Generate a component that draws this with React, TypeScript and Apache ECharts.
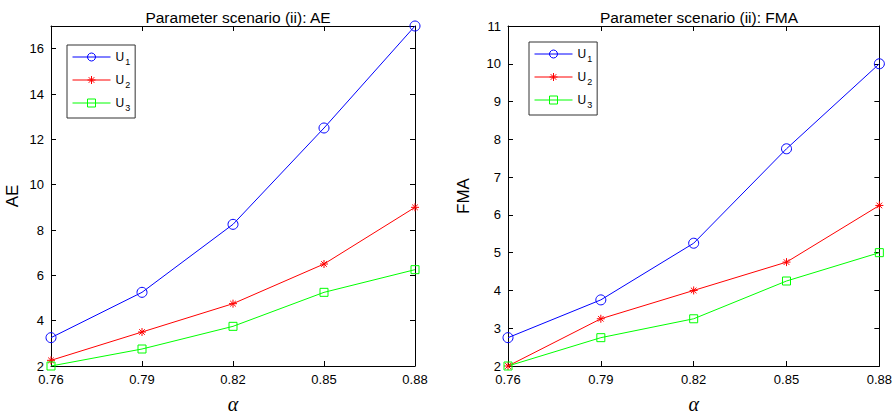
import React, { useEffect, useRef } from "react";
import * as echarts from "echarts";

const alphaLabels = ["0.76", "0.79", "0.82", "0.85", "0.88"];
const seriesNames = ["U1", "U2", "U3"];
const aeU1 = [3.25, 5.25, 8.25, 12.5, 17];
const aeU2 = [2.25, 3.5, 4.75, 6.5, 9];
const aeU3 = [2, 2.75, 3.75, 5.25, 6.25];
const fmaU1 = [2.75, 3.75, 5.25, 7.75, 10];
const fmaU2 = [2, 3.25, 4, 4.75, 6.25];
const fmaU3 = [2, 2.75, 3.25, 4.25, 5];
const titles = ["Parameter scenario (ii): AE", "Parameter scenario (ii): FMA"];
const yNames = ["AE", "FMA"];

const colors = ["#0000ff", "#ff0000", "#00ff00"];
const symbols = [
  "path://M5 0 A5 5 0 1 1 4.999 0 Z",
  "path://M0 5 L10 5 M5 0 L5 10 M1.5 1.5 L8.5 8.5 M8.5 1.5 L1.5 8.5",
  "path://M0 0 L10 0 L10 10 L0 10 Z",
];
const symbolSizes = [10, 8, 8];

export default function App() {
  const ref = useRef<HTMLDivElement>(null);
  useEffect(() => {
    document.body.style.margin = "0";
    const chart = echarts.init(ref.current!, null, { renderer: "svg" });
    const font = "'Liberation Sans', Arial, sans-serif";
    const grids = [
      { left: 51, top: 26, width: 364, height: 343 },
      { left: 508, top: 26, width: 372, height: 343 },
    ];
    const yRanges = [
      { min: 2, max: 17, interval: 2 },
      { min: 2, max: 11, interval: 1 },
    ];
    const axisLine = { show: true, lineStyle: { color: "#000", width: 1 } };
    const tick = { show: true, inside: true, length: 5, lineStyle: { color: "#000" } };
    const xAxes: any[] = [];
    const yAxes: any[] = [];
    grids.forEach((_, g) => {
      xAxes.push({
        type: "category",
        gridIndex: g,
        data: alphaLabels,
        boundaryGap: false,
        position: "bottom",
        axisLine,
        axisTick: { ...tick, alignWithLabel: true },
        axisLabel: { color: "#000", fontSize: 13, fontFamily: font, margin: 7 },
        splitLine: { show: false },
        name: "α",
        nameLocation: "middle",
        nameGap: 28,
        nameTextStyle: { fontFamily: "'Liberation Serif', 'DejaVu Serif', serif", fontStyle: "italic", fontSize: 20, color: "#000" },
      });
      xAxes.push({
        type: "category",
        gridIndex: g,
        data: alphaLabels,
        boundaryGap: false,
        position: "top",
        axisLine,
        axisTick: tick,
        axisLabel: { show: false },
        splitLine: { show: false },
      });
      const yr = yRanges[g];
      yAxes.push({
        type: "value",
        gridIndex: g,
        min: yr.min,
        max: yr.max,
        interval: yr.interval,
        position: "left",
        axisLine,
        axisTick: tick,
        axisLabel: {
          color: "#000",
          fontSize: 13,
          fontFamily: font,
          margin: 7,
          showMaxLabel: g === 1,
        },
        splitLine: { show: false },
        name: yNames[g],
        nameLocation: "middle",
        nameGap: g === 0 ? 30 : 36,
        nameRotate: 90,
        nameTextStyle: { fontFamily: font, fontSize: 17, color: "#000" },
      });
      yAxes.push({
        type: "value",
        gridIndex: g,
        min: yr.min,
        max: yr.max,
        interval: yr.interval,
        position: "right",
        axisLine,
        axisTick: tick,
        axisLabel: { show: false },
        splitLine: { show: false },
      });
    });
    const data = [
      [aeU1, aeU2, aeU3],
      [fmaU1, fmaU2, fmaU3],
    ];
    const series: any[] = [];
    data.forEach((set, g) => {
      set.forEach((vals, i) => {
        series.push({
          type: "line",
          name: seriesNames[i],
          xAxisIndex: g * 2,
          yAxisIndex: g * 2,
          data: vals,
          symbol: symbols[i],
          symbolSize: symbolSizes[i],
          showAllSymbol: true,
          lineStyle: { color: colors[i], width: 1 },
          itemStyle: { color: "transparent", borderColor: colors[i], borderWidth: 1 },
          emphasis: { disabled: true },
        });
      });
    });
    const legendBase = {
      orient: "vertical",
      data: seriesNames,
      itemWidth: 38,
      itemHeight: 10,
      itemGap: 8,
      borderColor: "#333",
      borderWidth: 1,
      padding: [6, 5, 6, 5],
      backgroundColor: "#fff",
      selectedMode: false,
      lineStyle: { width: 1 },
      itemStyle: { borderWidth: 1 },
      formatter: (n: string) => `${n[0]}{sub|${n.slice(1)}}`,
      textStyle: {
        fontFamily: font,
        fontSize: 12,
        color: "#000",
        rich: { sub: { fontSize: 9, fontFamily: font, padding: [9, 0, 0, 1], color: "#000" } },
      },
    };
    chart.setOption({
      animation: false,
      backgroundColor: "#fff",
      title: titles.map((t, g) => ({
        text: t,
        left: grids[g].left + grids[g].width / 2,
        textAlign: "center",
        top: 4,
        textStyle: { fontFamily: font, fontSize: 15.5, fontWeight: "normal", color: "#000" },
      })),
      legend: [
        { ...legendBase, left: 67, top: 45 },
        { ...legendBase, left: 529, top: 42 },
      ],
      grid: grids,
      xAxis: xAxes,
      yAxis: yAxes,
      series,
    });
    return () => chart.dispose();
  }, []);
  return <div ref={ref} style={{ width: 895, height: 419 }} />;
}
